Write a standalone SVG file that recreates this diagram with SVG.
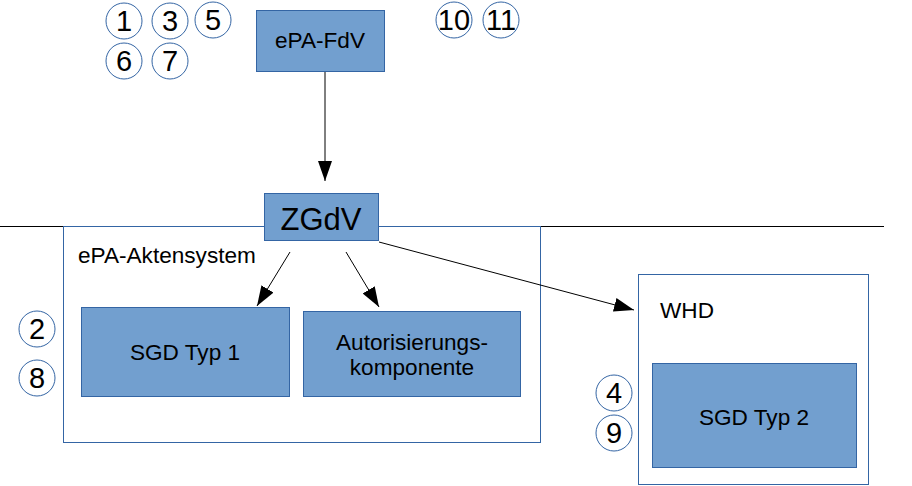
<svg xmlns="http://www.w3.org/2000/svg" width="912" height="486" viewBox="0 0 912 486">
<style>
.node{fill:#729fcf;stroke:#3465a4;stroke-width:1}
.cont{fill:#fff;stroke:#3465a4;stroke-width:1}
.num{fill:#fff;stroke:#3465a4;stroke-width:1}
text{font-family:"Liberation Sans",Arial,sans-serif;fill:#000}
.lbl{font-size:22.6px;text-anchor:middle}
.n{font-size:29px;text-anchor:middle}
.conn{stroke:#000;stroke-width:1;fill:none;marker-end:url(#ah)}
</style>
<defs>
<marker id="ah" markerWidth="20" markerHeight="14" refX="20" refY="7" orient="auto" markerUnits="userSpaceOnUse">
<path d="M0,0 L20,7 L0,14 Z" fill="#000"/>
</marker>
</defs>
<rect width="912" height="486" fill="#fff"/>
<line x1="0" y1="226.5" x2="884" y2="226.5" stroke="#000" stroke-width="1"/>
<g id="epa-aktensystem">
<rect class="cont" x="63.5" y="226.5" width="477" height="216"/>
<text x="78" y="263" font-size="22.6">ePA-Aktensystem</text>
</g>
<g id="whd">
<rect class="cont" x="638.5" y="274.5" width="230" height="210"/>
<text x="660" y="318" font-size="22.6">WHD</text>
</g>
<g id="epa-fdv">
<rect class="node" x="256.5" y="10.5" width="128" height="61"/>
<text class="lbl" x="320" y="48">ePA-FdV</text>
</g>
<g id="zgdv">
<rect class="node" x="264.5" y="193.5" width="114" height="47"/>
<text x="321" y="230" font-size="31" text-anchor="middle">ZGdV</text>
</g>
<g id="sgd-typ-1">
<rect class="node" x="81.5" y="307.5" width="208" height="89"/>
<text class="lbl" x="185" y="360">SGD Typ 1</text>
</g>
<g id="autorisierungskomponente">
<rect class="node" x="303.5" y="311.5" width="217" height="85"/>
<text class="lbl" x="412" y="350">Autorisierungs-</text>
<text class="lbl" x="412" y="375">komponente</text>
</g>
<g id="sgd-typ-2">
<rect class="node" x="652.5" y="363.5" width="204" height="104"/>
<text class="lbl" x="754" y="425">SGD Typ 2</text>
</g>
<g id="connectors">
<line class="conn" x1="325" y1="72" x2="325" y2="181"/>
<line class="conn" x1="290" y1="252" x2="257" y2="306"/>
<line class="conn" x1="346" y1="252" x2="379" y2="307"/>
<line class="conn" x1="379" y1="242" x2="634" y2="310"/>
</g>
<g id="num-1"><circle class="num" cx="124" cy="21" r="18"/><text class="n" x="124" y="31">1</text></g>
<g id="num-3"><circle class="num" cx="170" cy="21" r="18"/><text class="n" x="170" y="31">3</text></g>
<g id="num-5"><circle class="num" cx="213" cy="20" r="18"/><text class="n" x="213" y="30">5</text></g>
<g id="num-6"><circle class="num" cx="124" cy="61" r="18"/><text class="n" x="124" y="71">6</text></g>
<g id="num-7"><circle class="num" cx="170" cy="61" r="18"/><text class="n" x="170" y="71">7</text></g>
<g id="num-10"><circle class="num" cx="454" cy="20" r="18"/><text class="n" x="454" y="30">10</text></g>
<g id="num-11"><circle class="num" cx="501" cy="20" r="18"/><text class="n" x="501" y="30">11</text></g>
<g id="num-2"><circle class="num" cx="37" cy="329" r="18"/><text class="n" x="37" y="339">2</text></g>
<g id="num-8"><circle class="num" cx="37" cy="378" r="18"/><text class="n" x="37" y="388">8</text></g>
<g id="num-4"><circle class="num" cx="614" cy="393" r="18"/><text class="n" x="614" y="403">4</text></g>
<g id="num-9"><circle class="num" cx="614" cy="433" r="18"/><text class="n" x="614" y="443">9</text></g>
</svg>
